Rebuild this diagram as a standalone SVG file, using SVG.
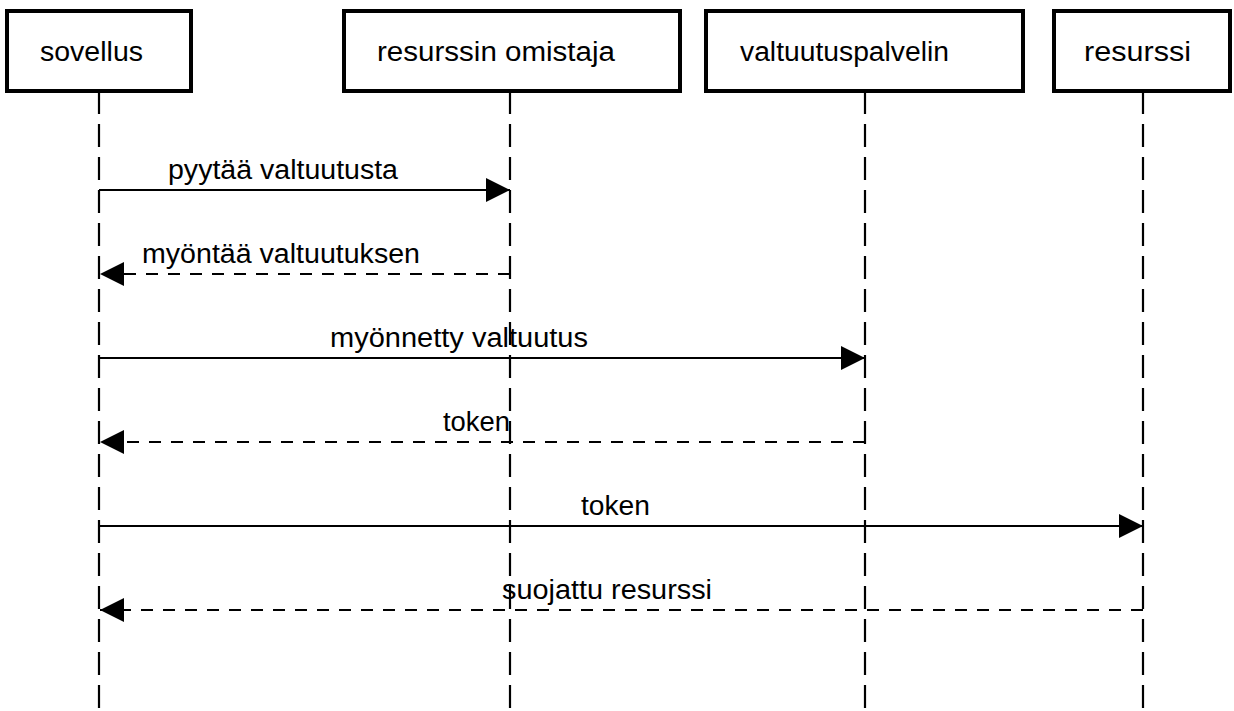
<svg xmlns="http://www.w3.org/2000/svg" width="1234" height="711" viewBox="0 0 1234 711">
  <style>
    .box { fill: #ffffff; stroke: #000000; stroke-width: 4; }
    .label { font-family: "Liberation Sans", Arial, sans-serif; font-size: 27px; fill: #000000; }
    .life { stroke: #000000; stroke-width: 2.2; stroke-dasharray: 23 10; fill: none; }
    .call { stroke: #000000; stroke-width: 2.2; fill: none; marker-end: url(#head); }
    .reply { stroke: #000000; stroke-width: 2.2; stroke-dasharray: 12 10; fill: none; marker-end: url(#head); }
  </style>
  <defs>
    <marker id="head" markerUnits="userSpaceOnUse" markerWidth="24" markerHeight="24" refX="24" refY="12" orient="auto" viewBox="0 0 24 24">
      <path d="M0,0 L24,12 L0,24 Z" fill="#000000"/>
    </marker>
  </defs>
  <rect width="1234" height="711" fill="#ffffff"/>

  <!-- lifelines -->
  <g id="lifelines">
    <line class="life" x1="99" y1="91" x2="99" y2="711"/>
    <line class="life" x1="510" y1="91" x2="510" y2="711"/>
    <line class="life" x1="865" y1="91" x2="865" y2="711"/>
    <line class="life" x1="1143" y1="91" x2="1143" y2="711"/>
  </g>

  <!-- participants -->
  <g id="sovellus">
    <rect class="box" x="7" y="11" width="184" height="80"/>
    <text class="label" x="40" y="61" textLength="103" lengthAdjust="spacingAndGlyphs">sovellus</text>
  </g>
  <g id="resurssin-omistaja">
    <rect class="box" x="344" y="11" width="336" height="80"/>
    <text class="label" x="377" y="61" textLength="238" lengthAdjust="spacingAndGlyphs">resurssin omistaja</text>
  </g>
  <g id="valtuutuspalvelin">
    <rect class="box" x="706" y="11" width="317" height="80"/>
    <text class="label" x="740" y="61" textLength="209" lengthAdjust="spacingAndGlyphs">valtuutuspalvelin</text>
  </g>
  <g id="resurssi">
    <rect class="box" x="1054" y="11" width="176" height="80"/>
    <text class="label" x="1084" y="61" textLength="107" lengthAdjust="spacingAndGlyphs">resurssi</text>
  </g>

  <!-- messages -->
  <g id="messages">
    <line class="call" x1="99" y1="190" x2="510" y2="190"/>
    <text class="label" x="168" y="179" textLength="230" lengthAdjust="spacingAndGlyphs">pyytää valtuutusta</text>

    <line class="reply" x1="510" y1="274" x2="100" y2="274"/>
    <text class="label" x="142" y="263" textLength="278" lengthAdjust="spacingAndGlyphs">myöntää valtuutuksen</text>

    <line class="call" x1="99" y1="358" x2="865" y2="358"/>
    <text class="label" x="330" y="347" textLength="258" lengthAdjust="spacingAndGlyphs">myönnetty valtuutus</text>

    <line class="reply" x1="865" y1="442" x2="100" y2="442"/>
    <text class="label" x="443" y="431" textLength="67" lengthAdjust="spacingAndGlyphs">token</text>

    <line class="call" x1="99" y1="526" x2="1143" y2="526"/>
    <text class="label" x="581" y="515" textLength="69" lengthAdjust="spacingAndGlyphs">token</text>

    <line class="reply" x1="1143" y1="610" x2="100" y2="610"/>
    <text class="label" x="502" y="599" textLength="210" lengthAdjust="spacingAndGlyphs">suojattu resurssi</text>
  </g>
</svg>
